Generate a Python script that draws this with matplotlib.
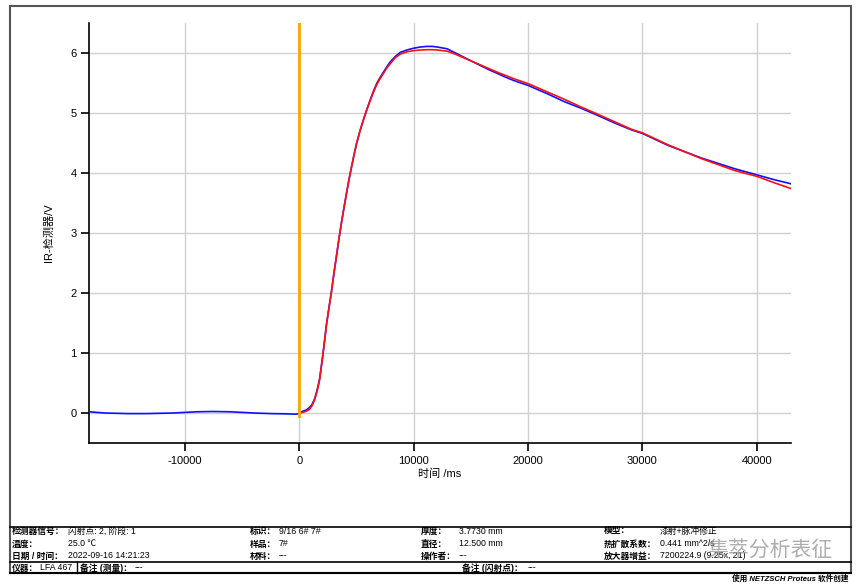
import matplotlib
matplotlib.use("Agg")
import matplotlib.pyplot as plt
from matplotlib.patches import Rectangle
from matplotlib.lines import Line2D

plt.rcParams['font.family'] = ['Liberation Sans', 'Noto Sans CJK SC', 'DejaVu Sans']
plt.rcParams['axes.unicode_minus'] = False

# Messkurve (blau)
t_meas = [-18400, -17000, -15000, -13400, -11000, -9000, -7600, -6000, -4000, -2500,
          -1000, -300, 0, 300, 600, 880, 1100, 1320, 1550, 1760, 1900, 2060, 2200,
          2350, 2570, 2790, 3010, 3240, 3460, 3680, 3900, 4120, 4340, 4560, 4780,
          5000, 5300, 5590, 5880, 6180, 6470, 6760, 7050, 7350, 7650, 7940, 8380,
          8820, 9400, 10000, 10600, 11180, 11600, 12060, 12920, 13650, 14380, 15100,
          15850, 16600, 17310, 18000, 18770, 20000, 21700, 23160, 24630, 26090,
          27500, 29020, 30000, 32240, 35160, 38090, 40000, 41500, 43000]
v_meas = [0.02, 0.0, -0.01, -0.01, 0.0, 0.02, 0.025, 0.02, 0.0, -0.01,
          -0.015, -0.02, -0.01, 0.03, 0.05, 0.09, 0.14, 0.23, 0.38, 0.56, 0.75, 0.98, 1.20,
          1.45, 1.73, 2.00, 2.31, 2.61, 2.90, 3.17, 3.42, 3.66, 3.89, 4.10, 4.30,
          4.49, 4.70, 4.88, 5.05, 5.21, 5.36, 5.49, 5.59, 5.68, 5.77, 5.85, 5.94,
          6.01, 6.05, 6.08, 6.10, 6.11, 6.11, 6.10, 6.07, 6.00, 5.93, 5.86,
          5.79, 5.72, 5.66, 5.60, 5.54, 5.46, 5.32, 5.19, 5.08, 4.96,
          4.84, 4.72, 4.66, 4.46, 4.25, 4.07, 3.97, 3.89, 3.82]

# Modellkurve (rot)
t_fit = [0, 300, 600, 880, 1100, 1320, 1550, 1760, 1900, 2060, 2200, 2350, 2570,
         2790, 3010, 3240, 3460, 3680, 3900, 4120, 4340, 4560, 4780, 5000, 5300,
         5590, 5880, 6180, 6470, 6760, 7050, 7350, 7650, 7940, 8380, 8820, 9400,
         10000, 10600, 11180, 11600, 12060, 12920, 13650, 14380, 15850, 17310,
         18770, 20000, 21700, 23160, 24630, 26090, 27500, 29020, 30000, 32240,
         35160, 38090, 40000, 41500, 43000]
v_fit = [0.0, 0.01, 0.03, 0.06, 0.12, 0.21, 0.36, 0.54, 0.74, 0.97, 1.19, 1.44, 1.73,
         2.00, 2.31, 2.61, 2.90, 3.17, 3.42, 3.66, 3.89, 4.10, 4.30, 4.49, 4.70,
         4.88, 5.04, 5.20, 5.34, 5.47, 5.57, 5.66, 5.75, 5.82, 5.92, 5.98, 6.02,
         6.04, 6.05, 6.055, 6.055, 6.05, 6.03, 5.98, 5.92, 5.80, 5.68,
         5.57, 5.49, 5.35, 5.23, 5.10, 4.98, 4.86, 4.73, 4.67, 4.47,
         4.24, 4.04, 3.945, 3.84, 3.74]

x_ticks = [-10000, 0, 10000, 20000, 30000, 40000]
y_ticks = [0, 1, 2, 3, 4, 5, 6]
laser_t = 0

W, H = 861, 587
fig = plt.figure(figsize=(W / 100, H / 100), dpi=100)

def fx(px):
    return px / W

def fy(py):
    return 1 - py / H

ax = fig.add_axes([fx(89), fy(443), fx(791) - fx(89), fy(23) - fy(443)])
ax.plot(t_meas, v_meas, color='#1010ff', lw=1.2, zorder=3)
ax.plot(t_fit, v_fit, color='#ff1010', lw=1.2, zorder=4)
ax.axvline(laser_t, ymin=0.45 / 7.0, ymax=1, color='#ffa500', lw=2, zorder=5)

ax.set_xlim(-18400, 43000)
ax.set_ylim(-0.5, 6.5)
ax.set_xticks(x_ticks)
ax.set_yticks(y_ticks)
ax.grid(True, color='#d0d0d0', lw=1)
ax.set_axisbelow(True)
for s in ['top', 'right']:
    ax.spines[s].set_visible(False)
for s in ['left', 'bottom']:
    ax.spines[s].set_linewidth(1.2)
ax.tick_params(direction='out', length=6, width=1.2, labelsize=8, pad=3)
ax.set_xlabel('时间 /ms', fontsize=8, labelpad=2)
ax.set_ylabel('IR-检测器/V', fontsize=8, labelpad=12)

# äußerer Rahmen und Tabelle
fig.add_artist(Rectangle((fx(10), fy(573)), fx(851) - fx(10), fy(6) - fy(573),
                         transform=fig.transFigure, fill=False, ec='#555555', lw=1.5))
for py in [527, 562]:
    fig.add_artist(Line2D([fx(10), fx(851)], [fy(py), fy(py)], color='black', lw=1.2))
fig.add_artist(Line2D([fx(10), fx(851)], [fy(573), fy(573)], color='black', lw=1.5))
fig.add_artist(Line2D([fx(77), fx(77)], [fy(562), fy(573)], color='black', lw=1))

fs = 6.3
rows_y = [531, 544, 556]
cols = [
    (12, 68, ['检测器信号：', '温度：', '日期 / 时间：'],
     ['闪射点: 2, 阶段: 1', '25.0 ℃', '2022-09-16 14:21:23']),
    (250, 279, ['标识：', '样品：', '材料：'], ['9/16 6# 7#', '7#', '---']),
    (421, 459, ['厚度：', '直径：', '操作者：'], ['3.7730 mm', '12.500 mm', '---']),
    (604, 660, ['模型：', '热扩散系数：', '放大器增益：'],
     ['漆射+脉冲修正', '0.441 mm^2/s', '7200224.9 (9.25x, 21)']),
]
for lx, vx, labels, values in cols:
    for py, lab, val in zip(rows_y, labels, values):
        fig.text(fx(lx), fy(py), lab, fontsize=fs, weight='bold', va='center')
        fig.text(fx(vx), fy(py), val, fontsize=fs, va='center')

fig.text(fx(12), fy(568), '仪器：', fontsize=fs, weight='bold', va='center')
fig.text(fx(40), fy(568), 'LFA 467', fontsize=fs, va='center')
fig.text(fx(80), fy(568), '备注 (测量)：', fontsize=fs, weight='bold', va='center')
fig.text(fx(135), fy(568), '---', fontsize=fs, va='center')
fig.text(fx(462), fy(568), '备注 (闪射点)：', fontsize=fs, weight='bold', va='center')
fig.text(fx(528), fy(568), '---', fontsize=fs, va='center')

fig.text(fx(848), fy(579), '使用 NETZSCH Proteus 软件创建', fontsize=5.5, style='italic',
         weight='bold', ha='right', va='center')

# Wasserzeichen
fig.text(fx(707), fy(550), '集萃分析表征', fontsize=15, color='#9a9a9a', alpha=0.8,
         va='center')

fig.savefig('out.png', dpi=100)
